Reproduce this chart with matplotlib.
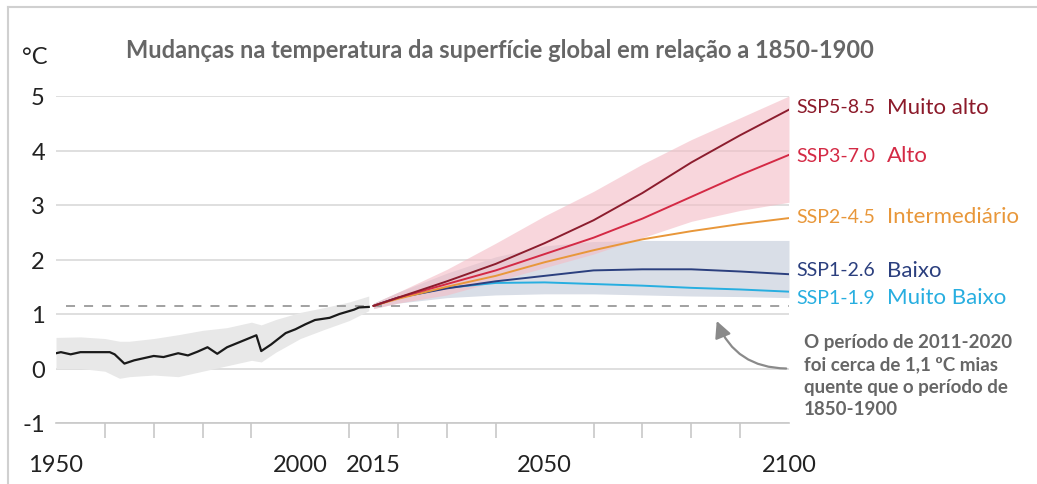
import numpy as np
import matplotlib.pyplot as plt
from matplotlib.patches import FancyArrowPatch

plt.rcParams['font.family'] = ['Lato', 'DejaVu Sans']

# dados históricos (1950-2014)
hist_years = [1950, 1951, 1953, 1955, 1961, 1962, 1964, 1966, 1968, 1970, 1972, 1975,
              1977, 1979, 1981, 1983, 1985, 1988, 1991, 1992, 1994, 1997, 1999, 2001,
              2003, 2006, 2008, 2011, 2012, 2014]
hist_temp = [0.28, 0.30, 0.26, 0.30, 0.30, 0.26, 0.09, 0.15, 0.19, 0.23, 0.21, 0.28,
             0.24, 0.31, 0.39, 0.27, 0.39, 0.50, 0.61, 0.32, 0.44, 0.65, 0.72, 0.81,
             0.89, 0.93, 1.00, 1.08, 1.12, 1.13]

env_years = [1950, 1955, 1960, 1963, 1965, 1970, 1975, 1980, 1985, 1990, 1992,
             1995, 2000, 2005, 2010, 2014]
env_upper = [0.57, 0.58, 0.55, 0.50, 0.50, 0.55, 0.62, 0.70, 0.75, 0.85, 0.80,
             0.90, 1.03, 1.12, 1.22, 1.33]
env_lower = [0.00, 0.00, -0.05, -0.18, -0.15, -0.12, -0.15, -0.05, 0.05, 0.15, 0.12,
             0.30, 0.55, 0.72, 0.88, 1.06]

# projeções (2015-2100)
proj_years = [2015, 2020, 2030, 2040, 2050, 2060, 2070, 2080, 2090, 2100]
ssp585 = [1.15, 1.30, 1.60, 1.92, 2.30, 2.72, 3.22, 3.78, 4.28, 4.75]
ssp370 = [1.15, 1.30, 1.55, 1.80, 2.10, 2.40, 2.75, 3.15, 3.55, 3.92]
ssp245 = [1.15, 1.28, 1.50, 1.70, 1.95, 2.17, 2.37, 2.52, 2.65, 2.76]
ssp126 = [1.15, 1.30, 1.47, 1.60, 1.70, 1.80, 1.82, 1.82, 1.78, 1.73]
ssp119 = [1.15, 1.30, 1.48, 1.57, 1.58, 1.55, 1.52, 1.48, 1.45, 1.41]

red_upper = [1.20, 1.40, 1.82, 2.30, 2.80, 3.25, 3.75, 4.20, 4.60, 5.00]
red_lower = [1.10, 1.20, 1.35, 1.60, 1.85, 2.10, 2.40, 2.70, 2.90, 3.05]
gray_upper = [1.20, 1.40, 1.75, 2.05, 2.25, 2.33, 2.35, 2.35, 2.35, 2.35]
gray_lower = [1.10, 1.20, 1.30, 1.35, 1.37, 1.37, 1.35, 1.33, 1.32, 1.30]

ssp_labels = ['SSP5-8.5', 'SSP3-7.0', 'SSP2-4.5', 'SSP1-2.6', 'SSP1-1.9']
ssp_names = ['Muito alto', 'Alto', 'Intermediário', 'Baixo', 'Muito Baixo']
label_y = [4.80, 3.91, 2.79, 1.81, 1.31]
line_colors = ['#8c1d2e', '#d42a45', '#e8973a', '#2b3f7e', '#27aee0']
text_colors = ['#8c1a2a', '#d42a45', '#e8973a', '#2b3f7e', '#27aee0']

xtick_labels = [1950, 2000, 2015, 2050, 2100]

fig = plt.figure(figsize=(10.37, 4.85), dpi=100)
ax = fig.add_axes([56 / 1037, 61 / 485, 733 / 1037, 327 / 485])

# bandas de incerteza
ax.fill_between(env_years, env_lower, env_upper, color='#e8e8e8', lw=0)
ax.fill_between(proj_years, gray_lower, gray_upper, color='#d9dee7', lw=0)
ax.fill_between(proj_years, red_lower, red_upper, color='#f4bcc5', alpha=0.6, lw=0)

ax.hlines(1.15, 1952, 2100, colors='#9a9a9a', linestyles=(0, (5, 5)), lw=1.3)

ax.plot(hist_years, hist_temp, color='#1a1a1a', lw=1.6)
for vals, c in zip([ssp119, ssp126, ssp245, ssp370, ssp585], line_colors[::-1]):
    ax.plot(proj_years, vals, color=c, lw=1.4)

for lab, name, yv, c in zip(ssp_labels, ssp_names, label_y, text_colors):
    ax.text(2101.5, yv, lab, color=c, fontsize=14, va='center', ha='left',
            family=['Liberation Sans Narrow', 'Lato', 'DejaVu Sans'])
    ax.text(2120, yv, name, color=c, fontsize=16, va='center', ha='left')

ax.set_xlim(1950, 2100)
ax.set_ylim(-1, 5)
ax.set_yticks(range(-1, 6))
ax.set_yticklabels([str(v) for v in range(-1, 6)])
ax.grid(axis='y', color='#d9d9d9', lw=1.2)
ax.set_axisbelow(True)

ax.set_xticks(xtick_labels)
ax.set_xticklabels([str(v) for v in xtick_labels])
ax.set_xticks(range(1950, 2101, 10), minor=True)
ax.tick_params(axis='x', which='major', length=0, pad=22, labelsize=17, labelcolor='#222222')
ax.tick_params(axis='x', which='minor', length=11, color='#c8c8c8', width=1.2)
ax.tick_params(axis='y', length=0, pad=8, labelsize=17, labelcolor='#222222')

for s in ['top', 'right', 'left']:
    ax.spines[s].set_visible(False)
ax.spines['bottom'].set_color('#c8c8c8')
ax.spines['bottom'].set_linewidth(1.2)

fig.text(500 / 1037, 1 - 50 / 485, 'Mudanças na temperatura da superfície global em relação a 1850-1900',
         ha='center', va='center', fontsize=17, fontweight='bold', color='#666666')
fig.text(22 / 1037, 1 - 58 / 485, '°C', ha='left', va='center', fontsize=17, color='#222222')

ax.text(2103, -0.12, 'O período de 2011-2020\nfoi cerca de 1,1 ºC mias\nquente que o período de\n1850-1900',
        ha='left', va='center', fontsize=13.5, fontweight='bold', color='#666666',
        linespacing=1.4, clip_on=False)
arrow = FancyArrowPatch((2100, 0.0), (2085, 0.92), connectionstyle='arc3,rad=-0.35',
                        arrowstyle='-|>,head_length=10,head_width=5', color='#8a8a8a',
                        lw=1.6, clip_on=False)
ax.add_patch(arrow)

# moldura
fig.add_artist(plt.Line2D([8 / 1037, 1], [1 - 8 / 485, 1 - 8 / 485], color='#d0d0d0', lw=1.5))
fig.add_artist(plt.Line2D([8 / 1037, 8 / 1037], [0, 1 - 8 / 485], color='#d0d0d0', lw=1.5))

fig.savefig('out.png', dpi=100)
